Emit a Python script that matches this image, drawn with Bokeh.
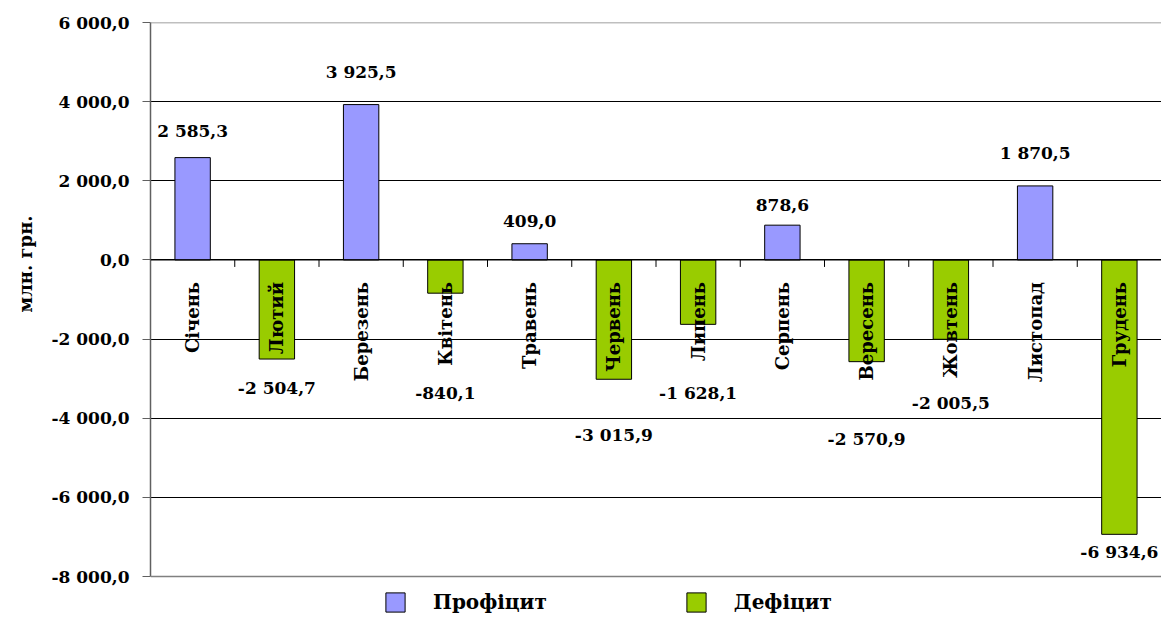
import math
from bokeh.plotting import figure
from bokeh.models import ColumnDataSource, FixedTicker, Title, Legend, LegendItem, Span
from bokeh.core.properties import value
from bokeh.embed import file_html
from bokeh.resources import INLINE

# ---- data ----
months = ["Січень", "Лютий", "Березень", "Квітень", "Травень", "Червень",
          "Липень", "Серпень", "Вересень", "Жовтень", "Листопад", "Грудень"]
balance = [2585.3, -2504.7, 3925.5, -840.1, 409.0, -3015.9,
           -1628.1, 878.6, -2570.9, -2005.5, 1870.5, -6934.6]
series_names = ["Профіцит", "Дефіцит"]
y_ticks = [-8000, -6000, -4000, -2000, 0, 2000, 4000, 6000]
y_axis_title = "млн. грн."

# ---- styles / layout ----
series_colors = ["#9999FF", "#99CC00"]
label_dy = [-27, 29, -33, 100, -23, 56, 69, -20, 77, 64, -33, 18]  # px offsets of value labels
FONT = "DejaVu Serif"
W, H = 1161, 617
LEFT, TOP = 150, 22
AXIS_PX = 554          # pixel height of the value axis (6 000 .. -8 000)
LEGEND_PX = H - TOP - AXIS_PX   # strip under the axis that holds the legend


def fmt(v):
    return f"{v:,.1f}".replace(",", " ").replace(".", ",")


xs = list(range(1, len(months) + 1))
kind_idx = [0 if v >= 0 else 1 for v in balance]
src = ColumnDataSource(dict(
    x=xs,
    top=balance,
    month=months,
    lbl=[fmt(v) for v in balance],
    dy=label_dy,
    color=[series_colors[k] for k in kind_idx],
))

units_per_px = (y_ticks[-1] - y_ticks[0]) / AXIS_PX
p = figure(width=W, height=H, x_range=(0.5, len(months) + 0.5),
           y_range=(y_ticks[0] - LEGEND_PX * units_per_px, y_ticks[-1]),
           output_backend="svg", toolbar_location=None,
           min_border_left=LEFT, min_border_right=0,
           min_border_top=TOP, min_border_bottom=0)
p.background_fill_color = "white"
p.border_fill_color = "white"
p.outline_line_color = None

# y axis
p.yaxis.ticker = FixedTicker(ticks=y_ticks)
p.yaxis.bounds = (y_ticks[0], y_ticks[-1])
p.yaxis.major_label_overrides = {t: fmt(t) for t in y_ticks}
p.yaxis.major_label_text_font = FONT
p.yaxis.major_label_text_font_style = "bold"
p.yaxis.major_label_text_font_size = "17px"
p.yaxis.major_label_text_color = "black"
p.yaxis.major_tick_out = 8
p.yaxis.major_tick_in = 0
p.yaxis.minor_tick_line_color = None
p.yaxis.axis_line_color = "#606060"
p.yaxis.axis_line_width = 1.5
p.yaxis.major_tick_line_color = "#606060"
p.yaxis.major_label_standoff = 13

# x axis replaced by a zero line with downward ticks between categories
p.xaxis.visible = False
p.xgrid.visible = False
p.ygrid.ticker = FixedTicker(ticks=y_ticks[1:-1])
p.ygrid.grid_line_color = "black"
p.ygrid.grid_line_width = 1
for edge in (y_ticks[0], y_ticks[-1]):
    p.add_layout(Span(location=edge, dimension="width", line_color="#808080", line_width=1.5))

r = p.vbar(x="x", top="top", bottom=0, width=0.42, source=src,
           fill_color="color", line_color="black", line_width=1)

p.add_layout(Span(location=0, dimension="width", line_color="black", line_width=1.2))
p.ray(x=[x + 0.5 for x in xs[:-1]], y=0, length=7, length_units="screen",
      angle=-math.pi / 2, line_color="black", line_width=1)

# value labels
p.text(x="x", y="top", text="lbl", y_offset="dy", source=src,
       text_align="center", text_baseline="middle",
       text_font=value(FONT), text_font_style="bold",
       text_font_size="17px", text_color="black")

# month labels (vertical, just below the zero line)
p.text(x="x", y=0, text="month", source=src, angle=math.pi / 2,
       y_offset=22, text_align="right", text_baseline="middle",
       text_font=value(FONT), text_font_style="bold",
       text_font_size="18px", text_color="black")

# y title
p.add_layout(Title(text=y_axis_title, align="left", offset=305, standoff=25,
                   text_font=FONT, text_font_style="bold",
                   text_font_size="18px", text_color="black"), "left")

legend = Legend(items=[
    LegendItem(label=series_names[0], renderers=[r], index=kind_idx.index(0)),
    LegendItem(label=series_names[1], renderers=[r], index=kind_idx.index(1)),
], orientation="horizontal", location=(233, 3),
    glyph_width=24, glyph_height=24, label_standoff=26, spacing=137,
    padding=0, margin=0, border_line_alpha=0, background_fill_alpha=0,
    label_text_font=FONT, label_text_font_style="bold",
    label_text_font_size="20px", label_text_color="black")
p.add_layout(legend)

open("out.html", "w").write(file_html(p, INLINE))
